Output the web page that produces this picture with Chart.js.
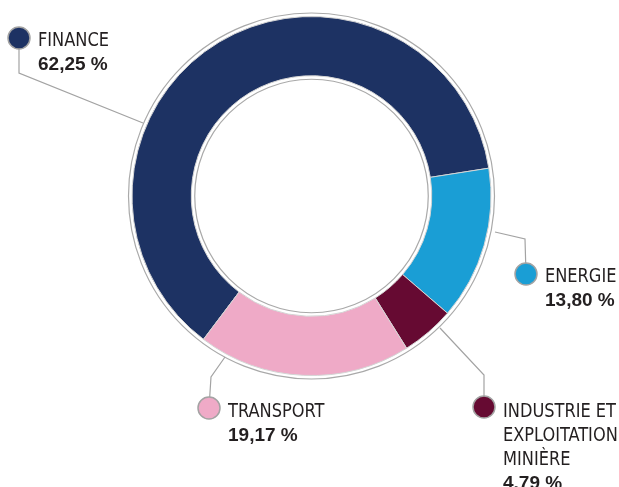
<!DOCTYPE html>
<html>
<head>
<meta charset="utf-8">
<script src="https://cdn.jsdelivr.net/npm/chart.js@4"></script>
<style>
html,body{margin:0;padding:0;background:#fff;}
#wrap{width:619px;height:487px;position:relative;}
</style>
</head>
<body>
<div id="wrap"><canvas id="chartSecteurs"></canvas></div>
<script>

/* données */

const sectors = ["FINANCE","ENERGIE","INDUSTRIE ET EXPLOITATION MINIÈRE","TRANSPORT"];
const shares = [62.25,13.80,4.79,19.17];
const shareLabels = ["62,25 %","13,80 %","4.79 %","19,17 %"];
const nameLines = [["FINANCE"],["ENERGIE"],["INDUSTRIE ET","EXPLOITATION","MINIÈRE"],["TRANSPORT"]];

let colors=["#1d3263","#1a9ed5","#660a32","#efaac7"];

/* placement des étiquettes : point de départ sur l'anneau, coude, pastille, texte */

let callouts=[
{start:[143,123],elbow:[19,73],dot:[19,38],text:[38,46]},
{start:[495,232],elbow:[525,239],dot:[526,274],text:[545,282]},
{start:[440,328],elbow:[484,375],dot:[484,407],text:[503,417]},
{start:[225,357],elbow:[211,377],dot:[209,408],text:[228,417]}
];

const ringPlugin={
id:"rings",
afterDatasetsDraw(chart){
let arc=chart.getDatasetMeta(0).data[0];
if(!arc) return;
let ctx=chart.ctx;
ctx.save();
ctx.strokeStyle="#a9a9a9";
ctx.lineWidth=1.2;
ctx.beginPath();
ctx.arc(arc.x,arc.y,arc.outerRadius+3.5,0,Math.PI*2);
ctx.stroke();
ctx.beginPath();
ctx.arc(arc.x,arc.y,arc.innerRadius-3.5,0,Math.PI*2);
ctx.stroke();
ctx.restore();
}
};

const nameFont="20px 'Liberation Sans Narrow','DejaVu Sans Condensed',sans-serif";
const valueFont="bold 19px 'Liberation Sans','Arial',sans-serif";

const calloutPlugin={
id:"callouts",
afterDraw(chart){
let ctx=chart.ctx;
ctx.save();

/* police condensée : on resserre pour retrouver la largeur du modèle */
ctx.font=nameFont;
let sx=71/ctx.measureText("FINANCE").width;

callouts.forEach((c,i)=>{

ctx.strokeStyle="#a3a3a3";
ctx.lineWidth=1.2;
ctx.beginPath();
ctx.moveTo(c.start[0],c.start[1]);
ctx.lineTo(c.elbow[0],c.elbow[1]);
ctx.lineTo(c.dot[0],c.dot[1]);
ctx.stroke();

ctx.beginPath();
ctx.arc(c.dot[0],c.dot[1],11,0,Math.PI*2);
ctx.fillStyle=colors[i];
ctx.fill();
ctx.lineWidth=1.5;
ctx.strokeStyle="#a3a3a3";
ctx.stroke();

ctx.fillStyle="#231f20";
ctx.textAlign="left";
ctx.textBaseline="alphabetic";
let y=c.text[1];
ctx.font=nameFont;
nameLines[i].forEach(l=>{
ctx.save();
ctx.translate(c.text[0],y);
ctx.scale(sx,1);
ctx.fillText(l,0,0);
ctx.restore();
y+=24;
});
ctx.font=valueFont;
ctx.fillText(shareLabels[i],c.text[0],y);
});
ctx.restore();
}
};

new Chart(document.getElementById("chartSecteurs"),{
type:"doughnut",
data:{
labels:sectors,
datasets:[{
data:shares,
backgroundColor:colors,
borderColor:"#d4d4d4",
borderWidth:1,
hoverOffset:0
}]
},
options:{
responsive:true,
maintainAspectRatio:false,
animation:false,
rotation:217,
cutout:"67%",
layout:{padding:{top:16,bottom:111,left:4,right:0}},
plugins:{legend:{display:false},tooltip:{enabled:false}}
},
plugins:[ringPlugin,calloutPlugin]
});

</script>
</body>
</html>
